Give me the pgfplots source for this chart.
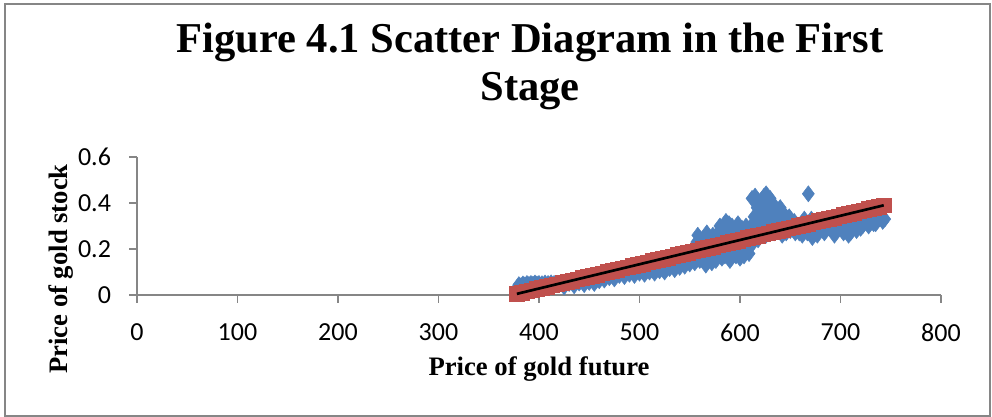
\documentclass[border=0pt]{standalone}
\usepackage{pgfplots}
\pgfplotsset{compat=1.18}
\usepackage{pgfplotstable}
\usepackage{fontspec}
\setmainfont{Liberation Serif}
\newfontfamily\tickfont{Carlito}
\definecolor{xblue}{HTML}{4F81BD}
\definecolor{xred}{HTML}{C0504D}
\definecolor{xgray}{HTML}{868686}

\pgfplotstableread{
x y
378 0.030
380 0.045
380 0.015
382 0.040
384 0.048
385 0.020
386 0.044
388 0.050
390 0.046
390 0.025
392 0.050
394 0.047
396 0.052
398 0.048
400 0.050
403 0.049
406 0.052
409 0.050
412 0.053
415 0.050
420 0.048
425 0.052
425 0.035
430 0.050
435 0.055
435 0.040
440 0.052
445 0.058
445 0.045
450 0.055
455 0.060
455 0.050
460 0.062
465 0.065
470 0.075
470 0.090
475 0.070
480 0.085
480 0.100
485 0.080
490 0.090
490 0.110
495 0.085
500 0.095
500 0.120
505 0.090
510 0.100
510 0.130
515 0.095
520 0.105
520 0.140
525 0.100
530 0.115
530 0.150
535 0.110
540 0.120
540 0.160
545 0.125
550 0.135
550 0.170
555 0.140
555 0.200
555 0.170
557 0.230
558 0.260
560 0.150
560 0.190
562 0.220
563 0.160
565 0.250
565 0.200
566 0.130
567 0.270
568 0.180
569 0.210
570 0.240
571 0.170
572 0.140
573 0.260
575 0.210
576 0.150
577 0.240
578 0.270
579 0.190
580 0.300
581 0.280
582 0.160
583 0.200
584 0.230
585 0.170
586 0.320
587 0.250
588 0.280
589 0.310
590 0.150
590 0.200
591 0.220
592 0.300
593 0.180
594 0.250
595 0.280
596 0.180
596 0.170
597 0.230
598 0.310
599 0.270
600 0.220
600 0.160
601 0.190
602 0.290
603 0.190
603 0.250
604 0.170
605 0.220
606 0.300
607 0.280
608 0.200
609 0.180
610 0.250
611 0.300
612 0.420
612 0.220
613 0.270
614 0.340
615 0.430
615 0.260
616 0.310
617 0.380
618 0.400
618 0.240
619 0.360
620 0.300
621 0.410
622 0.350
622 0.280
623 0.320
624 0.430
625 0.370
626 0.440
626 0.260
627 0.330
628 0.380
629 0.360
630 0.420
630 0.300
631 0.380
632 0.340
633 0.300
634 0.390
634 0.270
635 0.340
636 0.370
637 0.310
638 0.330
638 0.280
639 0.360
640 0.380
641 0.320
642 0.360
642 0.260
643 0.350
644 0.300
645 0.290
646 0.340
646 0.270
647 0.310
648 0.320
649 0.340
650 0.280
650 0.300
652 0.300
654 0.320
655 0.270
657 0.290
659 0.270
660 0.300
661 0.310
662 0.260
664 0.330
666 0.290
667 0.270
668 0.440
669 0.290
670 0.310
671 0.330
672 0.250
674 0.300
676 0.280
677 0.260
679 0.320
680 0.300
682 0.290
684 0.270
686 0.300
688 0.320
690 0.290
692 0.310
694 0.260
696 0.280
698 0.300
700 0.320
701 0.290
703 0.270
705 0.330
706 0.300
708 0.260
710 0.270
712 0.290
714 0.310
716 0.280
718 0.330
720 0.290
720 0.350
722 0.300
724 0.320
726 0.340
728 0.300
730 0.360
732 0.340
733 0.310
735 0.310
737 0.350
738 0.330
740 0.370
741 0.340
742 0.320
744 0.330
}\blueData

\pgfplotstableread{
x y
378 0.0050
383 0.0103
388 0.0156
393 0.0208
398 0.0261
403 0.0314
408 0.0366
413 0.0419
418 0.0472
423 0.0525
428 0.0577
433 0.0630
438 0.0683
443 0.0736
448 0.0788
453 0.0841
458 0.0894
463 0.0946
468 0.0999
473 0.1052
478 0.1105
483 0.1157
488 0.1210
493 0.1263
498 0.1316
503 0.1368
508 0.1421
513 0.1474
518 0.1526
523 0.1579
528 0.1632
533 0.1685
538 0.1737
543 0.1790
548 0.1843
553 0.1896
558 0.1948
563 0.2001
568 0.2054
573 0.2106
578 0.2159
583 0.2212
588 0.2265
593 0.2317
598 0.2370
603 0.2423
608 0.2476
613 0.2528
618 0.2581
623 0.2634
628 0.2686
633 0.2739
638 0.2792
643 0.2845
648 0.2897
653 0.2950
658 0.3003
663 0.3056
668 0.3108
673 0.3161
678 0.3214
683 0.3266
688 0.3319
693 0.3372
698 0.3425
703 0.3477
708 0.3530
713 0.3583
718 0.3636
723 0.3688
728 0.3741
733 0.3794
738 0.3846
743 0.3899
}\redData

\begin{document}
\begin{tikzpicture}
\begin{scope}[x=0.75pt,y=0.75pt]
\path[use as bounding box] (0,0) rectangle (992,417);
\draw[xgray, line width=1.1pt] (5,1) rectangle (990,413);
\node[anchor=base, inner sep=0pt, font=\fontsize{31.9}{36}\selectfont\bfseries] at (530,364) {Figure 4.1 Scatter Diagram in the First};
\node[anchor=base, inner sep=0pt, font=\fontsize{31.9}{36}\selectfont\bfseries] at (530,316) {Stage};
\node[anchor=base, inner sep=0pt, font=\fontsize{20}{24}\selectfont\bfseries] at (539,41) {Price of gold future};
\node[anchor=base, inner sep=0pt, rotate=90, font=\fontsize{20}{24}\selectfont\bfseries] at (67,148) {Price of gold stock};
\end{scope}
\begin{axis}[
  at={(102.75pt,91.5pt)}, anchor=south west,
  scale only axis, width=603pt, height=103.5pt,
  xmin=0, xmax=800, ymin=0, ymax=0.6,
  xtick={0,100,200,300,400,500,600,700,800},
  xticklabels={0,100,200,300,400,500,600,700,800},
  ytick={0,0.2,0.4,0.6},
  yticklabels={0,0.2,0.4,0.6},
  axis x line*=bottom, axis y line*=left,
  tick align=outside, major tick length=6pt,
  axis line style={draw=xgray, line width=1pt},
  every tick/.style={draw=xgray, line width=1pt},
  tick label style={font=\tickfont\fontsize{19.5}{22}\selectfont, text=black},
  xticklabel style={yshift=-12pt},
  yticklabel style={xshift=-10pt},
  clip=false,
  clip marker paths=true,
]
\addplot[only marks, mark=diamond*, mark size=6pt, mark options={fill=xblue, draw=xblue}] table[x=x,y=y] {\blueData};
\addplot[only marks, mark=square*, mark size=5.5pt, mark options={fill=xred, draw=xred}] table[x=x,y=y] {\redData};
\addplot[black, line width=2pt, no marks] coordinates {(378,0.0050) (743,0.3899)};
\end{axis}
\end{tikzpicture}
\end{document}
